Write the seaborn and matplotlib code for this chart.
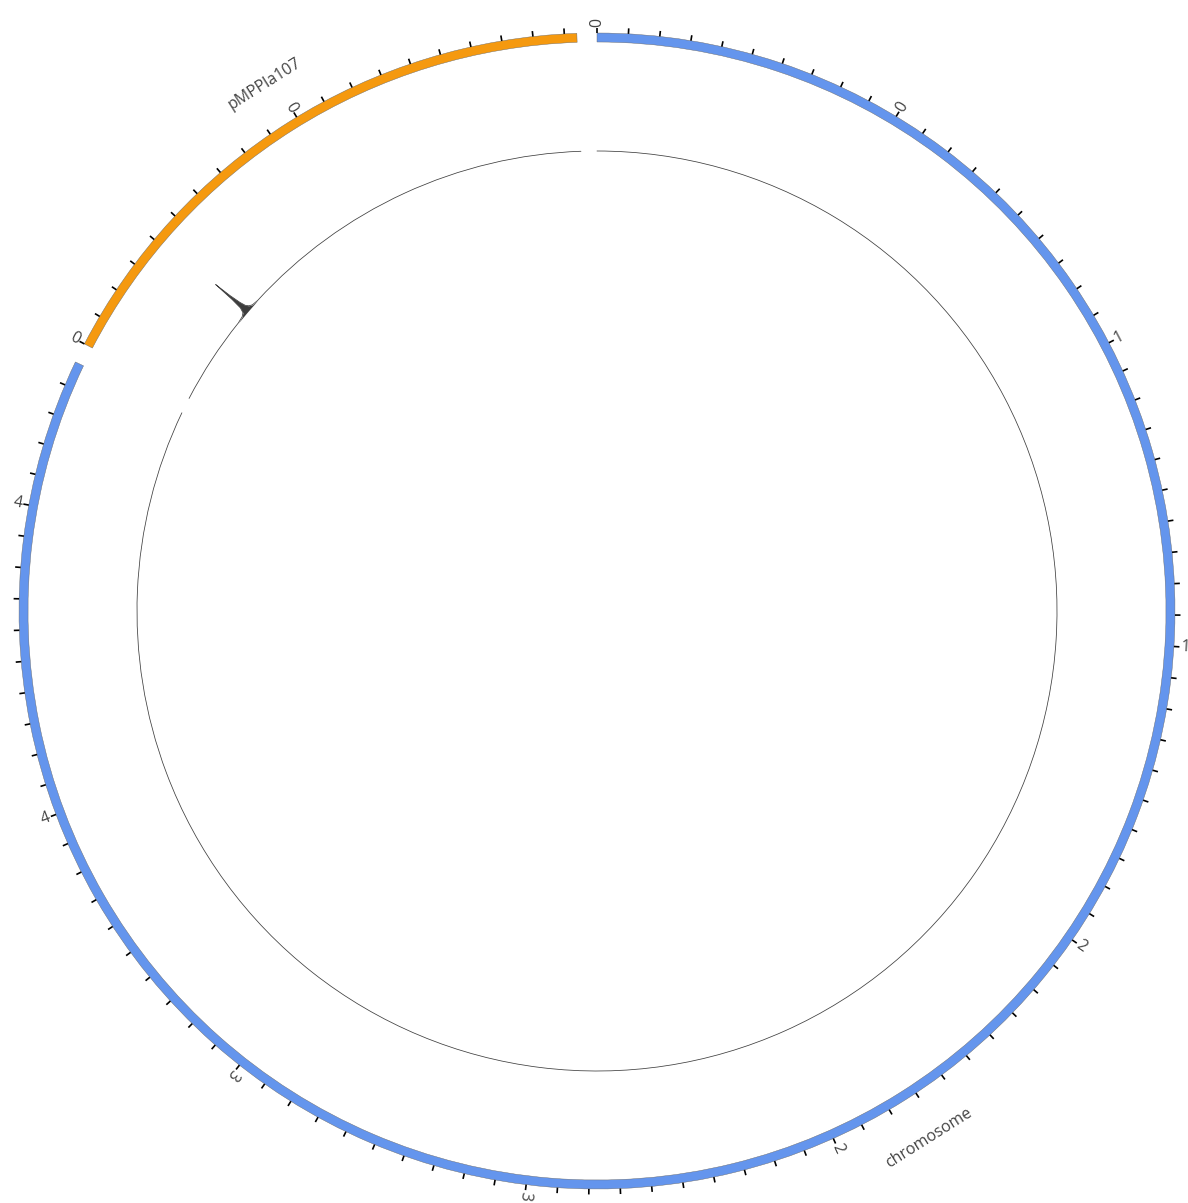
import numpy as np
import matplotlib
matplotlib.use("Agg")
import matplotlib.pyplot as plt
import seaborn as sns

# ---------------- data ----------------
sector_names = ["chromosome", "pMPPla107"]
sector_sizes_mb = [4.74, 0.97]
sector_colors = ["#6495ED", "#F5990F"]

tick_step_mb = 0.05
label_step_mb = 0.5
chromosome_tick_labels = ["0", "0", "1", "1", "2", "2", "3", "3", "4", "4"]
plasmid_tick_labels = ["0", "0"]

chromosome_track_pos = [0.0, 1.0, 2.0, 3.0, 4.0, 4.74]
chromosome_track_val = [0, 0, 0, 0, 0, 0]
plasmid_track_pos = [0.0, 0.180, 0.195, 0.202, 0.206, 0.208, 0.2092, 0.211,
                     0.2135, 0.216, 0.220, 0.226, 0.240, 0.97]
plasmid_track_val = [0, 0, 1, 3, 8, 20, 42, 24, 12, 6, 3, 1, 0, 0]

# ---------------- style ----------------
sns.set_theme(style="white")
plt.rcParams["font.family"] = ["Open Sans", "DejaVu Sans"]

W, H, DPI = 1188, 1203, 100
fig = plt.figure(figsize=(W / DPI, H / DPI), dpi=DPI)
cx, cy = 597, H - 611
RMAX = 600
ax = fig.add_axes([(cx - RMAX) / W, (cy - RMAX) / H, 2 * RMAX / W, 2 * RMAX / H],
                  projection="polar")
ax.set_theta_zero_location("N")
ax.set_theta_direction(-1)
ax.axis("off")

GAP_DEG = 2.0
RING_IN, RING_W = 569, 9
TICK_IN, TICK_OUT = 578, 583.5
LABEL_R = 589
NAME_R = 623
TRACK_R0, TRACK_R1 = 460, 502

total_mb = sum(sector_sizes_mb)
deg_per_mb = (360 - GAP_DEG * len(sector_sizes_mb)) / total_mb
starts = []
s = 0.0
for size in sector_sizes_mb:
    starts.append(s)
    s += size * deg_per_mb + GAP_DEG

tick_labels = [chromosome_tick_labels, plasmid_tick_labels]
track_pos = [chromosome_track_pos, plasmid_track_pos]
track_val = [chromosome_track_val, plasmid_track_val]
vmax = max(max(v) for v in track_val)

for name, size, color, start, labels, tpos, tval in zip(
        sector_names, sector_sizes_mb, sector_colors, starts, tick_labels,
        track_pos, track_val):
    span = size * deg_per_mb
    # outer ring
    ax.bar(np.deg2rad(start + span / 2), RING_W, width=np.deg2rad(span),
           bottom=RING_IN, color=color, edgecolor="#666666", linewidth=0.3)
    # ticks
    tpos_ticks = np.arange(0, size + 1e-9, tick_step_mb)
    ax.vlines(np.deg2rad(start + tpos_ticks * deg_per_mb), TICK_IN, TICK_OUT,
              colors="black", linewidth=1.2)
    # tick labels
    for i, lab in enumerate(labels):
        th = start + i * label_step_mb * deg_per_mb
        rot = 90 - th if th <= 235 else 270 - th
        ax.text(np.deg2rad(th), LABEL_R, lab, rotation=rot, rotation_mode="anchor",
                ha="center", va="center", fontsize=11.5, color="#444444")
    # sector name
    thc = start + span / 2
    rot = 180 - thc if 90 < thc < 270 else -thc
    ax.text(np.deg2rad(thc), NAME_R, name, rotation=rot, rotation_mode="anchor",
            ha="center", va="center", fontsize=11.5, color="#444444")
    # inner track
    th = np.deg2rad(start + np.asarray(tpos) * deg_per_mb)
    rr = TRACK_R0 + np.asarray(tval, dtype=float) / vmax * (TRACK_R1 - TRACK_R0)
    poly = ax.fill_between(th, TRACK_R0, rr, color="#3d3d3d", linewidth=0)
    for p in poly.get_paths():
        p._interpolation_steps = 100
    sns.lineplot(x=th, y=rr, ax=ax, color="#3d3d3d", linewidth=0.55,
                 estimator=None, sort=False)
    ln = ax.lines[-1]
    ln.get_path()._interpolation_steps = 100
    ln._transformed_path = None

ax.set_ylim(0, RMAX)
ax.set_xlabel("")
ax.set_ylabel("")
fig.savefig("out.png", dpi=DPI)
